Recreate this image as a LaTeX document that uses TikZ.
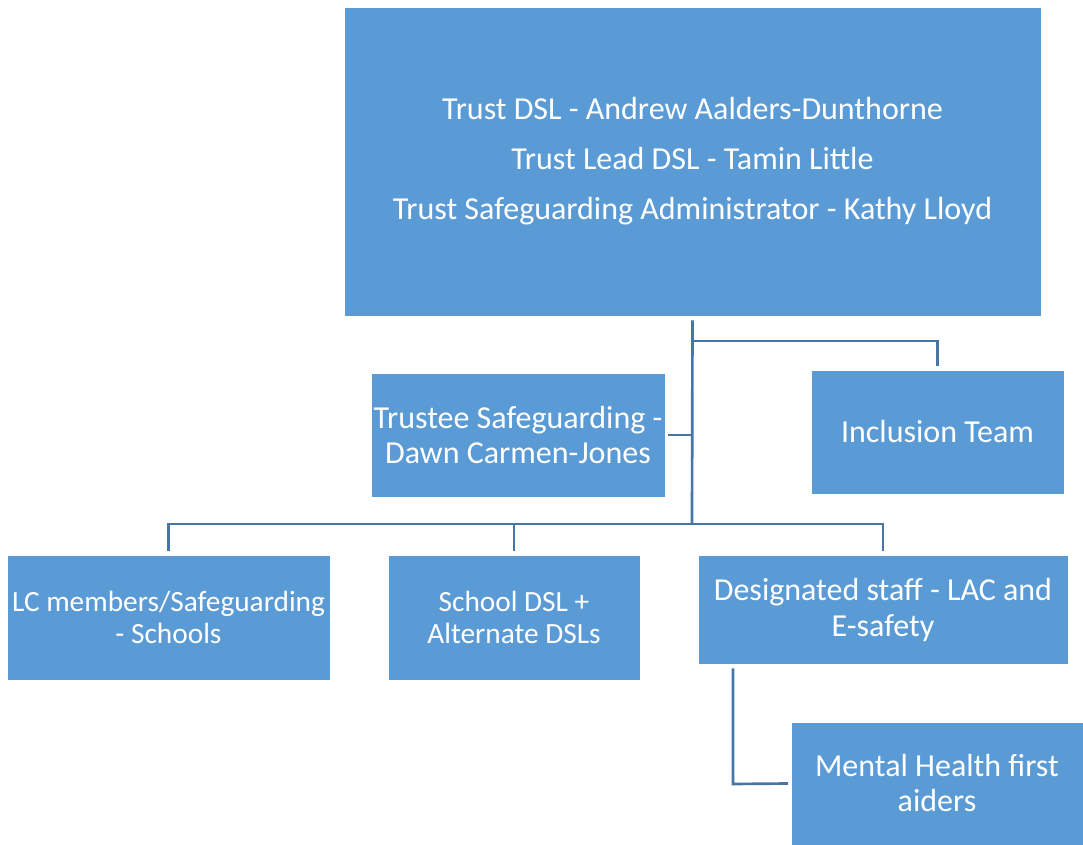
\documentclass[tikz,border=0pt]{standalone}
\usepackage{fontspec}
\setmainfont{Carlito}
\usepackage{xcolor}
\definecolor{boxblue}{HTML}{5B9BD5}
\definecolor{lineblue}{HTML}{4775A6}

\begin{document}
\begin{tikzpicture}[x=0.75pt, y=-0.75pt]
    % Define styles
    \tikzstyle{unit} = [rectangle, align=center, inner sep=2pt, text=white, fill=boxblue, draw=white, line width=0.4pt, font=\fontsize{24}{26.25}\selectfont]
    \tikzstyle{smallunit} = [unit, font=\fontsize{22}{24}\selectfont]
    \tikzstyle{link} = [draw=lineblue, line width=2pt]

    \useasboundingbox (0,0) rectangle (1083,845);

    % Boxes
    \node [unit, minimum width=697*0.75pt, minimum height=309*0.75pt, font=\fontsize{24}{37.5}\selectfont] (trust) at (692.5,161.5)
        {Trust DSL - Andrew Aalders-Dunthorne\\Trust Lead DSL - Tamin Little\\Trust Safeguarding Administrator - Kathy Lloyd};
    \node [unit, minimum width=292*0.75pt, minimum height=124*0.75pt] (trustee) at (518,435) {Trustee Safeguarding -\\Dawn Carmen-Jones};
    \node [unit, minimum width=253*0.75pt, minimum height=124*0.75pt] (inclusion) at (937.5,432) {Inclusion Team};
    \node [smallunit, minimum width=323*0.75pt, minimum height=125*0.75pt] (lc) at (168.5,617.5) {LC members/Safeguarding\\- Schools};
    \node [smallunit, minimum width=252*0.75pt, minimum height=125*0.75pt] (school) at (514,617.5) {School DSL +\\Alternate DSLs};
    \node [unit, minimum width=370*0.75pt, minimum height=109*0.75pt, font=\fontsize{24}{27}\selectfont] (designated) at (883,609.5) {Designated staff - LAC and\\E-safety};
    \node [unit, minimum width=292*0.75pt, minimum height=123*0.75pt] (mental) at (937,783.5) {Mental Health first\\aiders};

    % Connectors
    \coordinate (split) at (692,341);
    \coordinate (bus) at (692,524);
    \coordinate (mhturn) at (733,784);
    \draw [link] ([yshift=-3pt]trust.south) -- (bus);
    \draw [link] (split) -| ([yshift=3pt]inclusion.north);
    \draw [link] ([xshift=2pt]trustee.east) -- (trustee.east -| bus);
    \draw [link] ([yshift=3pt]lc.north) |- (bus) -| ([yshift=3pt]designated.north);
    \draw [link] ([yshift=3pt]school.north) -- (school.north |- bus);
    \draw [link] ([yshift=-3pt]mhturn |- designated.south) -- (mhturn) -- ([xshift=-2pt]mental.west);
\end{tikzpicture}
\end{document}
